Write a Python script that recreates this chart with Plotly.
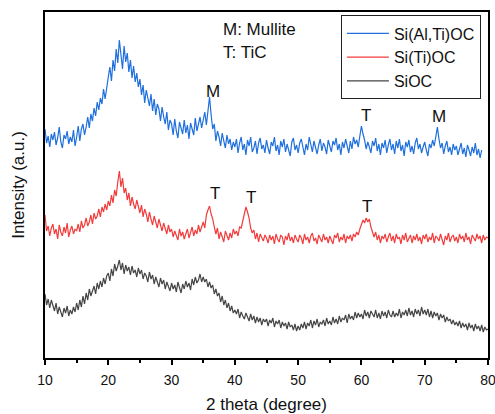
import numpy as np
import plotly.graph_objects as go

# 2-theta scan grid (degrees), step of the diffractometer
scan_start = 10.0
scan_step = 0.25

# Intensities (a.u.), one value every 0.25 deg from 10 deg
si_al_ti_oc = [
    224,210,217,206,219,213,221,208,215,226,211,205,218,214,222,209,216,211,223,207,
    216,227,212,224,229,218,226,236,225,239,232,245,237,251,243,255,249,264,254,268,
    276,286,272,293,282,304,290,313,295,284,307,291,300,281,293,275,287,271,280,266,
    274,258,268,250,263,253,247,259,242,254,238,249,244,232,246,236,229,241,223,233,
    229,218,234,222,215,231,224,219,233,220,228,214,230,225,218,235,222,229,236,225,
    233,241,228,246,256,238,224,229,212,222,216,207,220,212,205,218,209,214,203,211,
    206,214,200,210,216,203,209,198,213,207,216,201,205,212,199,210,215,204,208,200,
    213,205,199,211,207,216,202,208,198,212,206,214,201,209,204,197,211,215,203,208,
    200,210,214,205,198,209,203,216,207,201,212,205,199,208,214,202,210,206,199,213,
    206,201,212,208,215,203,209,198,211,205,214,207,200,212,204,216,209,213,206,217,
    227,219,213,204,211,206,200,212,207,215,202,209,198,210,205,213,200,208,214,203,
    209,199,212,205,214,202,208,197,211,206,213,201,207,199,210,215,204,209,200,206,
    211,203,197,209,205,213,207,216,226,214,205,210,199,207,212,201,206,198,209,203,
    207,198,204,210,199,205,196,208,203,197,206,200,210,198,204,195,203,
]

si_ti_oc = [
    138,122,127,117,125,129,119,124,114,128,121,117,126,120,130,116,123,127,119,124,
    122,129,121,132,125,128,135,127,131,138,129,140,134,137,144,136,146,141,149,143,
    152,147,158,150,163,157,171,182,166,175,160,165,153,160,147,156,149,144,153,146,
    140,148,136,144,139,131,141,134,128,137,131,125,134,127,122,130,124,119,128,121,
    124,116,122,118,113,124,117,121,114,119,124,115,121,126,117,123,119,128,121,127,
    131,125,138,143,147,139,134,126,119,125,114,121,116,111,122,117,113,120,115,124,
    119,122,117,126,125,132,138,146,141,135,125,120,123,114,120,111,119,115,112,118,
    115,110,118,113,117,109,119,114,111,118,116,108,117,113,120,112,116,110,118,114,
    111,118,115,109,119,113,116,110,117,120,112,115,109,118,114,111,119,113,116,110,
    117,113,109,118,115,120,111,116,113,119,110,117,114,118,112,119,116,121,118,124,
    128,133,130,135,131,134,126,122,116,121,113,118,110,117,114,119,111,116,120,112,
    117,110,119,114,116,109,118,113,120,111,115,118,110,117,113,119,112,116,109,118,
    114,119,111,116,113,120,110,117,115,112,119,114,108,117,113,120,111,116,118,112,
    116,110,119,114,117,111,120,113,116,109,118,115,112,119,114,117,110,118,113,116,
    115,
]

sioc = [
    59,48,54,45,53,47,42,50,39,46,42,36,45,40,47,37,43,39,46,41,
    50,43,53,46,57,49,60,53,64,57,62,67,59,70,64,72,66,75,69,77,
    80,72,84,77,89,82,87,93,83,90,79,88,82,86,78,87,80,83,76,85,
    79,83,74,80,77,71,81,74,78,69,76,72,66,75,69,73,64,71,67,62,
    70,64,68,61,71,65,60,69,64,72,66,70,63,74,68,76,70,73,79,71,
    76,71,74,66,71,65,68,59,64,57,60,51,57,48,53,45,50,42,47,40,
    43,39,44,35,41,37,34,40,36,32,39,33,37,30,36,31,35,28,34,31,
    34,27,33,30,35,26,32,29,33,25,31,27,30,24,31,26,28,23,29,22,
    27,23,29,25,31,24,30,27,33,25,32,28,34,26,31,29,33,27,35,29,
    32,28,36,30,34,29,37,31,35,33,38,30,39,34,37,33,41,35,40,36,
    39,34,43,37,41,35,42,38,36,43,35,40,34,42,37,41,35,43,38,36,
    42,36,40,37,44,35,41,38,43,37,45,38,42,36,44,39,43,37,46,39,
    43,38,44,36,42,35,41,37,40,33,39,35,38,31,36,32,34,29,33,28,
    31,27,32,25,30,26,29,23,30,25,28,22,29,24,27,22,28,21,26,23,
    24,
]

series_names = ["Si(Al,Ti)OC", "Si(Ti)OC", "SiOC"]
series_values = [si_al_ti_oc, si_ti_oc, sioc]

# Phase marks: label, 2-theta, intensity level
peak_labels = ["M", "T", "M", "T", "T", "T"]
peak_two_theta = [36.6, 60.8, 72.3, 36.8, 42.6, 60.9]
peak_levels = [262, 238, 237, 160, 156, 147]

key_lines = ["M: Mullite", "T: TiC"]

colors = ["#1f6fdd", "#f23c3c", "#454545"]

fig = go.Figure()
for name, vals, col in zip(series_names, series_values, colors):
    x = scan_start + scan_step * np.arange(len(vals))
    fig.add_trace(go.Scatter(x=x, y=vals, mode="lines", name=name,
                             line=dict(color=col, width=1.2)))

font_family = "Liberation Sans, Arial, sans-serif"

for lab, xx, yy in zip(peak_labels, peak_two_theta, peak_levels):
    fig.add_annotation(x=xx, y=yy, text=lab, showarrow=False,
                       font=dict(size=17, color="#111111", family=font_family))

for i, t in enumerate(key_lines):
    fig.add_annotation(x=0.398, y=0.948 - i * 0.064, xref="paper", yref="paper",
                       text=t, showarrow=False, xanchor="left", yanchor="middle",
                       font=dict(size=17, color="#111111", family=font_family))

fig.update_layout(
    width=495, height=414,
    margin=dict(l=45, r=7, t=12, b=56),
    paper_bgcolor="white", plot_bgcolor="white",
    font=dict(family=font_family, color="#111111"),
    showlegend=True,
    legend=dict(x=0.984, y=0.99, xanchor="right", yanchor="top",
                bgcolor="white", bordercolor="#222222", borderwidth=1,
                font=dict(size=16, family=font_family), itemwidth=42,
                tracegroupgap=0),
)
fig.update_xaxes(range=[10, 80], dtick=10, tick0=10, ticks="outside", ticklen=5,
                 tickwidth=1.5, tickcolor="black",
                 minor=dict(dtick=5, ticks="outside", ticklen=3, tickwidth=1.5,
                            tickcolor="black"),
                 showline=True, linecolor="black", linewidth=1.5, mirror=True,
                 showgrid=False, zeroline=False, automargin=False,
                 ticklabelstandoff=3, ticklabeloverflow="allow",
                 tickfont=dict(size=14, family=font_family),
                 title=dict(text="2 theta (degree)", font=dict(size=17, family=font_family),
                            standoff=14))
fig.update_yaxes(range=[-5, 341], showticklabels=False, ticks="",
                 showline=True, linecolor="black", linewidth=1.5, mirror=True,
                 showgrid=False, zeroline=False, automargin=False,
                 title=dict(text="Intensity (a.u.)", font=dict(size=17, family=font_family),
                            standoff=14))

fig.write_html("out.html", config={"displayModeBar": False})

# remove the browser's default page margin so the figure sits at the window origin
with open("out.html", encoding="utf-8") as f:
    html = f.read()
html = html.replace("<body>", '<body style="margin:0;padding:0;overflow:hidden">', 1)
with open("out.html", "w", encoding="utf-8") as f:
    f.write(html)
